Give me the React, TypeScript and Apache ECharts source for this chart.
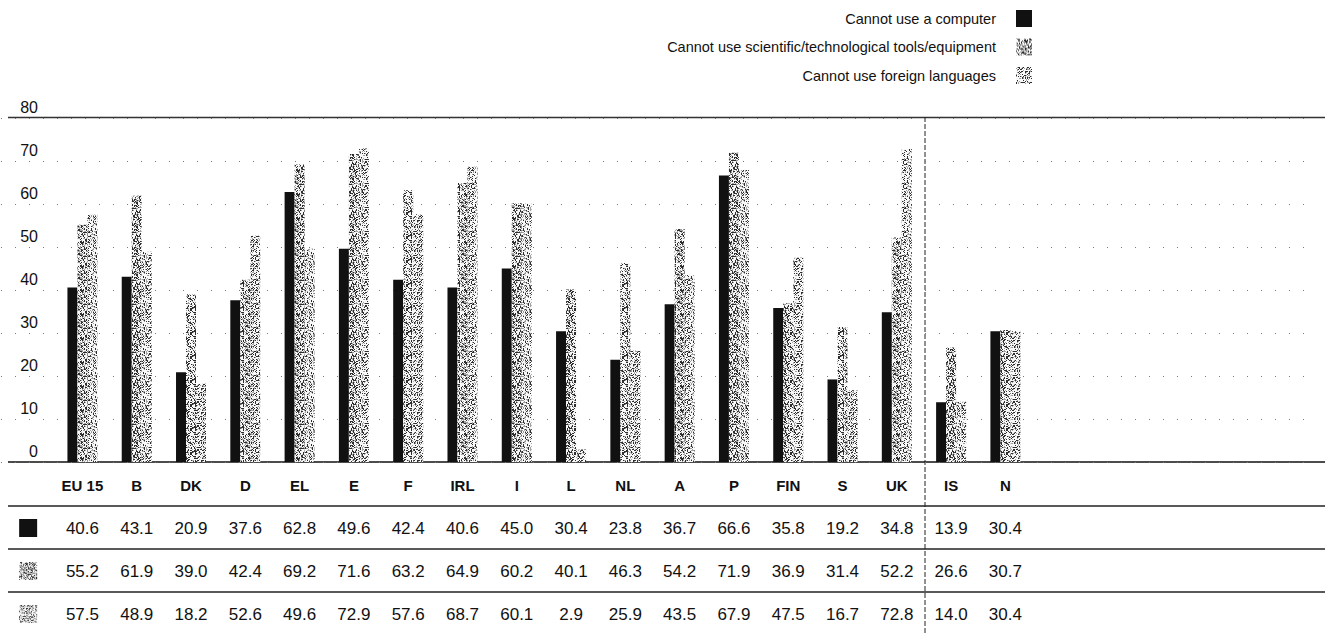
import React, { useEffect, useRef } from "react";
import * as echarts from "echarts";

const FONT = '"Liberation Sans", Arial, sans-serif';

const categories = ["EU 15", "B", "DK", "D", "EL", "E", "F", "IRL", "I", "L", "NL", "A", "P", "FIN", "S", "UK", "IS", "N"];
const computer = [40.6, 43.1, 20.9, 37.6, 62.8, 49.6, 42.4, 40.6, 45.0, 30.4, 23.8, 36.7, 66.6, 35.8, 19.2, 34.8, 13.9, 30.4];
const scientific = [55.2, 61.9, 39.0, 42.4, 69.2, 71.6, 63.2, 64.9, 60.2, 40.1, 46.3, 54.2, 71.9, 36.9, 31.4, 52.2, 26.6, 30.7];
const foreign = [57.5, 48.9, 18.2, 52.6, 49.6, 72.9, 57.6, 68.7, 60.1, 2.9, 25.9, 43.5, 67.9, 47.5, 16.7, 72.8, 14.0, 30.4];
const seriesNames = [
  "Cannot use a computer",
  "Cannot use scientific/technological tools/equipment",
  "Cannot use foreign languages",
];
const yTicks = { min: 0, max: 80, interval: 10 };

const LEAD = 1; // empty slot for the table's key column
const TRAIL = 5; // empty slots to the right

// deterministic speckle texture (styling only)
function speckle(darkShare: number, seed: number): any {
  const size = 24;
  const c = document.createElement("canvas");
  c.width = size;
  c.height = size;
  const ctx = c.getContext("2d");
  if (!ctx) return "#a8a8a8";
  const img = ctx.createImageData(size, size);
  for (let y = 0; y < size; y++) {
    for (let x = 0; x < size; x++) {
      let h = (x * 374761393 + y * 668265263 + seed * 982451653) | 0;
      h = Math.imul(h ^ (h >>> 13), 1274126177);
      h = (h ^ (h >>> 16)) >>> 0;
      const t = (h % 1000) / 1000;
      const v = t < darkShare ? 45 : t < darkShare + 0.2 ? 160 : 248;
      const o = (y * size + x) * 4;
      img.data[o] = v;
      img.data[o + 1] = v;
      img.data[o + 2] = v;
      img.data[o + 3] = 255;
    }
  }
  ctx.putImageData(img, 0, 0);
  return { image: c.toDataURL(), repeat: "repeat" };
}

export default function App() {
  const ref = useRef<HTMLDivElement>(null);
  useEffect(() => {
    if (!ref.current) return;
    const chart = echarts.init(ref.current, null, { renderer: "svg" });
    const COLORS: any[] = ["#111111", speckle(0.3, 7), speckle(0.24, 19)];
    const axisCats = [
      ...Array(LEAD).fill(""),
      ...categories,
      ...Array(TRAIL).fill(""),
    ].map((c, i) => (c === "" ? `_${i}` : c));
    const pad = (arr: number[]) => [
      ...Array(LEAD).fill("-"),
      ...arr,
      ...Array(TRAIL).fill("-"),
    ];
    const table = [computer, scientific, foreign];

    const option: any = {
      animation: false,
      backgroundColor: "#ffffff",
      textStyle: { fontFamily: FONT },
      legend: {
        orient: "vertical",
        right: 288,
        top: 5,
        align: "right",
        itemWidth: 16,
        itemHeight: 17,
        itemGap: 11.5,
        icon: "rect",
        data: seriesNames,
        textStyle: {
          fontFamily: FONT,
          fontSize: 14.5,
          color: "#111",
          padding: [0, 15, 0, 0],
        },
      },
      grid: { left: 1, right: 21, top: 118, bottom: 635 - 462 },
      xAxis: {
        type: "category",
        data: axisCats,
        axisLine: { show: false },
        axisTick: { show: false },
        axisLabel: {
          interval: 0,
          margin: 1.5,
          formatter: (_v: string, idx: number) => {
            if (idx === 0) return "{e| }\n{i1|}\n{i2|}\n{i3|}";
            const i = idx - LEAD;
            if (i < 0 || i >= categories.length) return "";
            return (
              `{b|${categories[i]}}\n` +
              table.map((t) => `{v|${t[i].toFixed(1)}}`).join("\n")
            );
          },
          rich: {
            b: { fontFamily: FONT, fontWeight: "bold", fontSize: 15, lineHeight: 43, color: "#111" },
            v: { fontFamily: FONT, fontSize: 17, lineHeight: 43, color: "#111" },
            e: { fontSize: 10, lineHeight: 43 },
            i1: { width: 18, height: 18, lineHeight: 43, backgroundColor: COLORS[0] },
            i2: { width: 18, height: 18, lineHeight: 43, backgroundColor: COLORS[1] },
            i3: { width: 18, height: 18, lineHeight: 43, backgroundColor: COLORS[2] },
          },
        },
      },
      yAxis: {
        type: "value",
        min: yTicks.min,
        max: yTicks.max,
        interval: yTicks.interval,
        axisLine: { show: false },
        axisTick: { show: false },
        splitLine: { lineStyle: { color: "#777", type: [1, 13], width: 1 } },
        axisLabel: {
          inside: true,
          margin: 37,
          align: "right",
          verticalAlign: "bottom",
          padding: [0, 0, 3, 0],
          fontFamily: FONT,
          fontSize: 16,
          color: "#111",
        },
      },
      series: [computer, scientific, foreign].map((arr, k) => ({
        name: seriesNames[k],
        type: "bar",
        data: pad(arr),
        barWidth: 10,
        barGap: "0%",
        itemStyle: { color: COLORS[k] },
      })),
      graphic: [
        // top rule (80) and base rule (0) across the full width
        { type: "line", shape: { x1: 8, y1: 117.5, x2: 1325, y2: 117.5 }, style: { stroke: "#333", lineWidth: 1.5 } },
        { type: "line", shape: { x1: 8, y1: 462, x2: 1325, y2: 462 }, style: { stroke: "#111", lineWidth: 1.5 } },
        ...[506, 549, 592].map((y) => ({
          type: "line",
          shape: { x1: 8, y1: y, x2: 1325, y2: y },
          style: { stroke: "#222", lineWidth: 1.5 },
        })),
        {
          type: "line",
          shape: { x1: 925, y1: 117, x2: 925, y2: 635 },
          style: { stroke: "#222", lineWidth: 1, lineDash: [5, 2] },
        },
      ],
    };
    chart.setOption(option);
    return () => chart.dispose();
  }, []);

  return (
    <div
      ref={ref}
      style={{ position: "fixed", left: 0, top: 0, width: 1325, height: 635, background: "#fff" }}
    />
  );
}
